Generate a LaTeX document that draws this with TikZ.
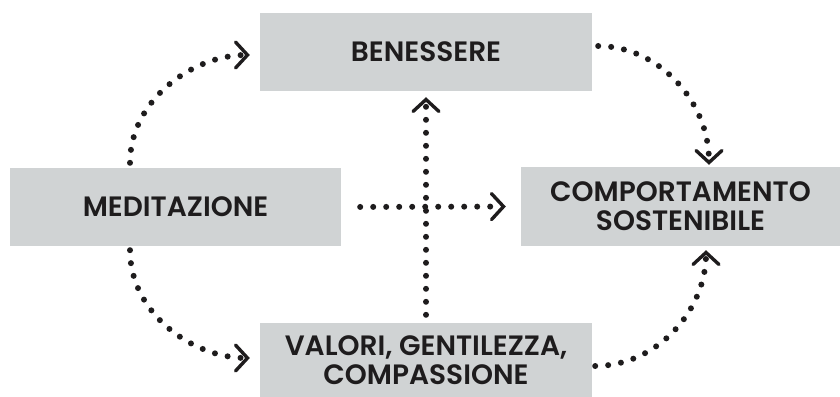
\documentclass[tikz,border=0pt]{standalone}
\usepackage{fontspec}
\setmainfont{Poppins}[BoldFont={Poppins SemiBold}]
\usetikzlibrary{arrows.meta}
\definecolor{boxgray}{HTML}{D0D3D4}
\definecolor{ink}{HTML}{1E1C1D}
\tikzstyle{box}=[fill=boxgray, inner sep=0pt, align=center, text=ink, font=\fontsize{28}{29}\selectfont\bfseries]
\tikzstyle{dots}=[ink, line width=6pt, line cap=round, dash pattern=on 0pt off 13pt, -{Straight Barb[line width=3.4pt, length=12pt, width=26pt, line cap=round]}]

\begin{document}
\begin{tikzpicture}[x=1pt, y=-1pt]
\useasboundingbox (0,0) rectangle (840,396);
\draw (426,52) node[box, minimum width=332pt, minimum height=78pt] (ben) {BENESSERE};
\draw (175.5,207) node[box, minimum width=331pt, minimum height=78pt] (med) {MEDITAZIONE};
\draw (680.5,206.5) node[box, minimum width=319pt, minimum height=79pt] (comp) {COMPORTAMENTO\\SOSTENIBILE};
\draw (426,360) node[box, minimum width=332pt, minimum height=74pt] (val) {VALORI, GENTILEZZA,\\COMPASSIONE};

\draw[dots, shorten <=5pt, shorten >=10pt] ([xshift=-45.5pt]med.north) to[out=90, in=180] ([yshift=-3pt]ben.west);
\draw[dots, shorten <=6pt, shorten >=2pt] ([yshift=6pt]ben.east) to[out=0, in=90] ([xshift=28.5pt]comp.north);
\draw[dots, shorten <=4pt, shorten >=10pt] ([xshift=-45.5pt]med.south) to[out=-90, in=180] ([yshift=2pt]val.west);
\draw[dots, shorten <=3pt, shorten >=4pt] ([yshift=-6pt]val.east) to[out=0, in=-90] ([xshift=25.5pt]comp.south);
\draw[dots, shorten <=19pt, shorten >=15pt] (med.east) -- (comp.west);
\draw[dots, shorten <=8pt, shorten >=6pt] (val.north) -- (ben.south);
\end{tikzpicture}
\end{document}
